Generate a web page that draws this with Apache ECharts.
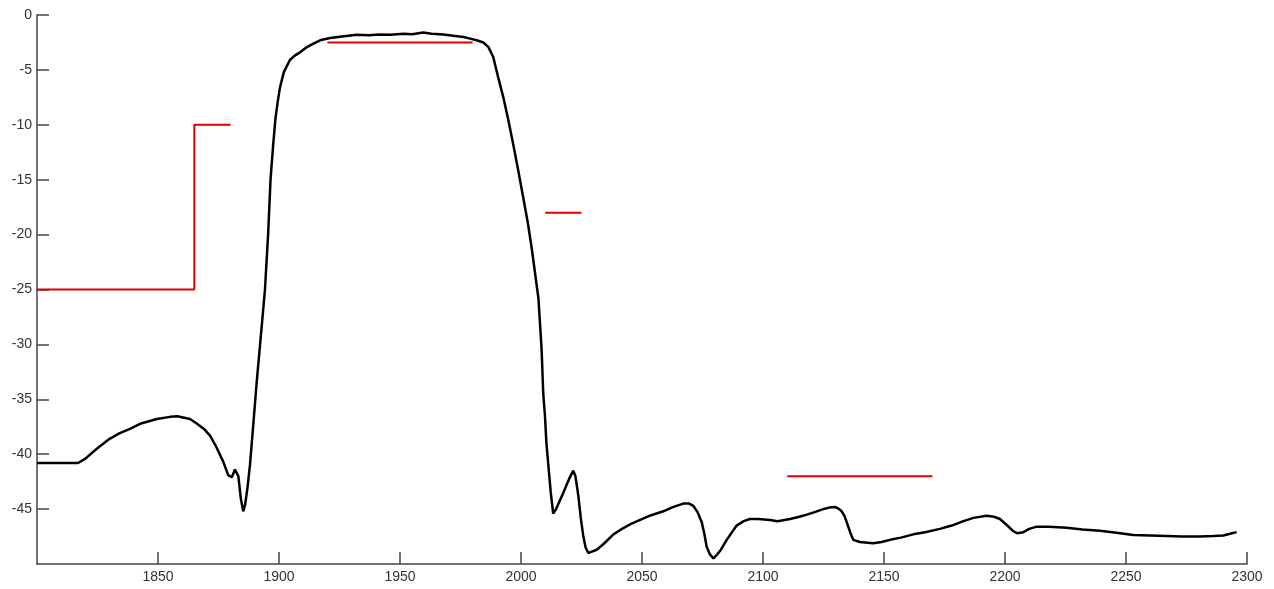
<!DOCTYPE html>
<html>
<head>
<meta charset="utf-8">
<script src="https://cdn.jsdelivr.net/npm/echarts@6/dist/echarts.min.js"></script>
<style>
html,body{margin:0;padding:0;background:#fff;}
#chart{width:1274px;height:589px;}
</style>
</head>
<body>
<div id="chart"></div>
<script>
// Measured response curve [frequency, dB]
const responseCurve = [
[1800,-40.8],[1810,-40.8],[1817,-40.8],[1820,-40.4],[1824.7,-39.5],[1830,-38.6],[1834,-38.1],[1838.4,-37.7],
[1843,-37.2],[1849.5,-36.8],[1855,-36.6],[1858,-36.55],[1863.2,-36.8],[1866,-37.2],[1869,-37.7],[1871.5,-38.3],
[1874,-39.3],[1877,-40.7],[1879,-41.9],[1880.5,-42.1],[1881.8,-41.4],[1882.5,-41.3],[1883.2,-42.0],[1884.2,-44.0],
[1885.2,-45.2],[1886,-44.6],[1887,-43.0],[1888,-41.0],[1889.3,-37.5],[1890.8,-33.4],[1893,-28],[1894.2,-25],
[1895.5,-20],[1896.5,-15],[1897.6,-11.8],[1898.5,-9.5],[1899.4,-8],[1900.4,-6.6],[1902,-5.2],[1904.5,-4.1],
[1906.5,-3.7],[1908.7,-3.4],[1911,-3.0],[1914.2,-2.6],[1917,-2.3],[1921.1,-2.1],[1926,-1.95],[1932.1,-1.8],
[1937,-1.85],[1941.7,-1.77],[1946,-1.8],[1951.4,-1.7],[1955,-1.75],[1959.6,-1.6],[1963,-1.7],[1967.9,-1.77],
[1972,-1.9],[1976.2,-2.0],[1979,-2.15],[1981.7,-2.3],[1984.4,-2.5],[1986.5,-2.9],[1988.5,-3.8],[1990.6,-5.7],
[1992.7,-7.5],[1994.8,-9.6],[1996.8,-11.8],[1998.9,-14.2],[2000.9,-16.6],[2002.8,-18.9],[2004.4,-21.2],[2005.8,-23.5],
[2007.2,-25.8],[2008.5,-30.4],[2009.2,-34.5],[2009.9,-36.5],[2010.5,-39],[2011.3,-41.0],[2012.3,-43.5],[2013.3,-45.4],
[2014.5,-45.0],[2017.5,-43.5],[2020,-42.2],
[2021.6,-41.5],[2022.5,-42.0],[2023.7,-43.8],[2024.7,-45.8],[2025.7,-47.4],[2026.7,-48.5],[2027.8,-49.0],[2029,-48.9],
[2031.3,-48.7],[2034,-48.2],[2038.2,-47.3],[2041,-46.9],[2045,-46.4],[2049,-46.0],[2053.3,-45.6],[2056,-45.4],
[2058.8,-45.2],[2063,-44.8],[2067.1,-44.5],[2069.5,-44.5],[2071.2,-44.7],[2073,-45.3],[2074.7,-46.2],[2075.8,-47.3],
[2076.7,-48.4],[2078,-49.1],[2079.5,-49.5],[2080.8,-49.2],[2082.3,-48.8],[2085,-47.8],[2089.1,-46.5],[2092,-46.1],
[2094.6,-45.9],[2098,-45.9],[2102.9,-46.0],[2106,-46.1],[2111.2,-45.9],[2115,-45.7],[2118.1,-45.5],[2121,-45.3],
[2124.9,-45.0],[2127.5,-44.85],[2129.8,-44.8],[2131.5,-45.0],[2132.5,-45.2],[2133.6,-45.6],[2134.6,-46.2],[2136,-47.1],
[2137.3,-47.8],[2140,-48.0],[2145.6,-48.1],[2149,-48.0],[2152.5,-47.8],[2157,-47.6],[2162.1,-47.3],[2167,-47.1],
[2173.1,-46.8],[2178,-46.5],[2182.8,-46.1],[2187,-45.8],[2192.4,-45.6],[2195.5,-45.7],[2197.9,-45.9],[2200.5,-46.4],
[2203.4,-47.0],[2205,-47.2],[2207.6,-47.1],[2210,-46.8],[2213.1,-46.6],[2218,-46.6],[2225.5,-46.7],[2232,-46.85],
[2239.3,-46.97],[2246,-47.15],[2253,-47.35],[2260,-47.4],[2266.8,-47.45],[2273,-47.5],[2280.6,-47.5],[2286,-47.45],
[2290.2,-47.4],[2293,-47.25],[2295.7,-47.1]
];
// Specification mask segments (red)
const maskLowStep = [[1800,-25],[1865,-25],[1865,-10],[1880,-10]];
const maskPassband = [[1920,-2.5],[1980,-2.5]];
const maskUpper1 = [[2010,-18],[2025,-18]];
const maskUpper2 = [[2110,-42],[2170,-42]];

const xMin = 1800, xMax = 2300, xStep = 50;
const yMin = -50, yMax = 0, yStep = 5;

const chart = echarts.init(document.getElementById('chart'));
const redStyle = {color:'#e00000', width:2};
function maskSeries(data){
  return {type:'line', data:data, showSymbol:false, symbol:'none', lineStyle:redStyle, itemStyle:{color:'#e00000'}, silent:true, z:3, animation:false};
}
const labelFont = {color:'#333', fontFamily:'Liberation Sans, Arial, sans-serif', fontSize:14};
chart.setOption({
  animation:false,
  backgroundColor:'#ffffff',
  grid:{left:37, right:27, top:15, bottom:25, containLabel:false},
  xAxis:{
    type:'value', min:xMin, max:xMax, interval:xStep, position:'bottom',
    axisLine:{show:true, onZero:false, lineStyle:{color:'#444', width:1.5}},
    axisTick:{show:true, inside:true, length:12, lineStyle:{color:'#444', width:1.5}},
    axisLabel:Object.assign({showMinLabel:false, margin:6, formatter:function(v){return String(v);}}, labelFont),
    splitLine:{show:false}
  },
  yAxis:{
    type:'value', min:yMin, max:yMax, interval:yStep, position:'left',
    axisLine:{show:true, onZero:false, lineStyle:{color:'#444', width:1.5}},
    axisTick:{show:true, inside:true, length:12, lineStyle:{color:'#444', width:1.5}},
    axisLabel:Object.assign({showMinLabel:false, margin:5, formatter:function(v){return String(v);}}, labelFont),
    splitLine:{show:false}
  },
  series:[
    maskSeries(maskLowStep),
    maskSeries(maskPassband),
    maskSeries(maskUpper1),
    maskSeries(maskUpper2),
    {type:'line', data:responseCurve, showSymbol:false, symbol:'none', smooth:false,
     lineStyle:{color:'#000', width:2.5}, itemStyle:{color:'#000'}, z:2, animation:false}
  ]
});
</script>
</body>
</html>
